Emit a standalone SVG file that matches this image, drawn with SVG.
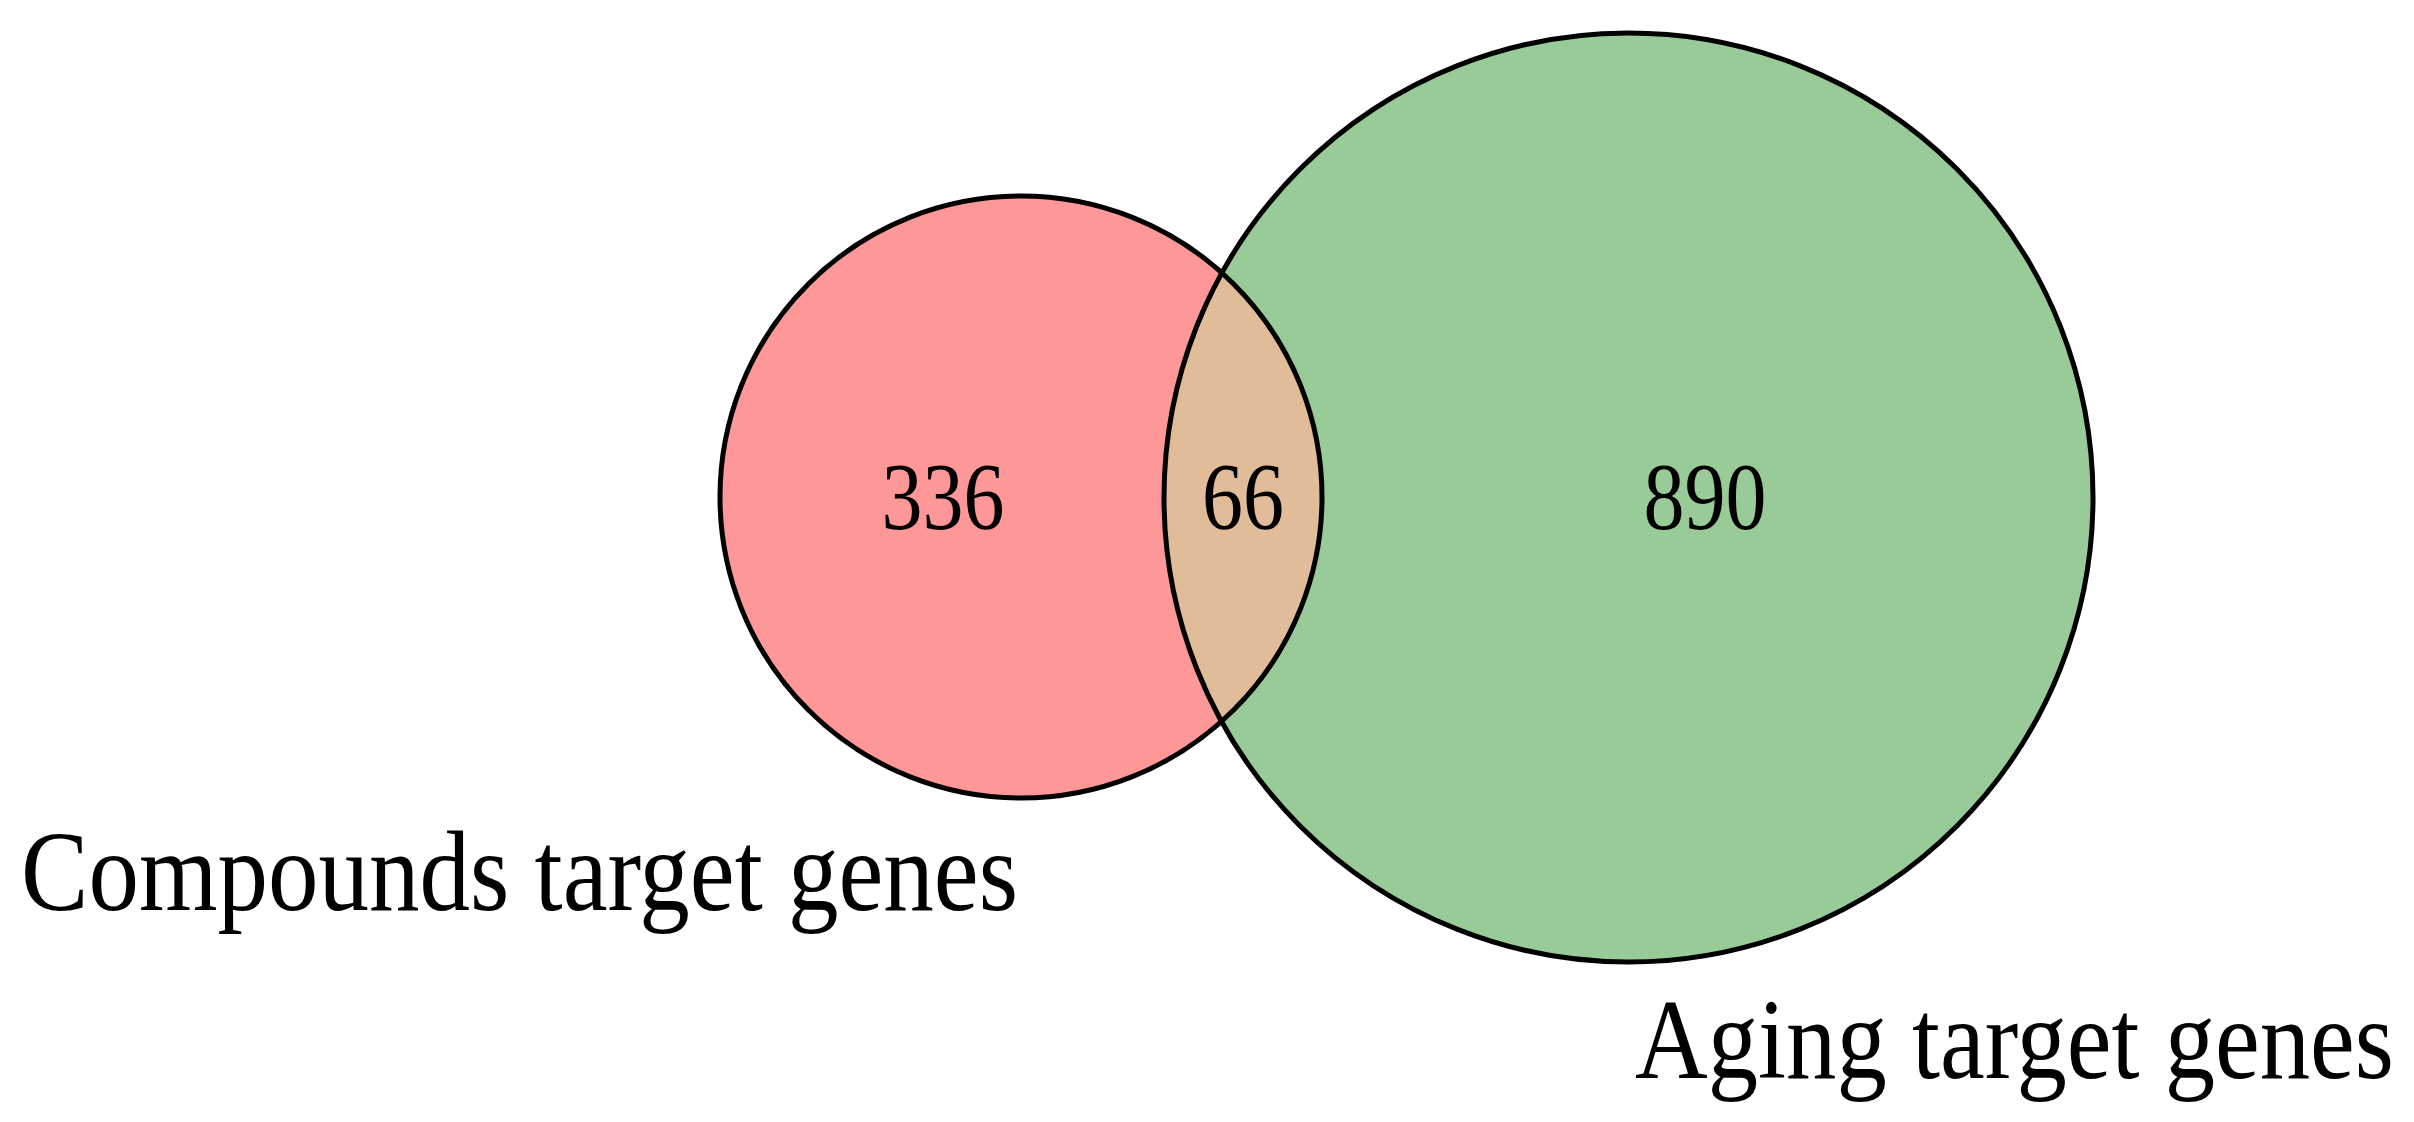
<svg xmlns="http://www.w3.org/2000/svg" width="2414" height="1122" viewBox="0 0 2414 1122">
<style>
.outline{fill:none;stroke:#000;stroke-width:5}
.num{font-family:"Liberation Serif","Times New Roman",serif;font-size:82px;fill:#000;text-anchor:middle}
.lbl{font-family:"Liberation Serif","Times New Roman",serif;font-size:100px;fill:#000}
</style>
<defs>
<clipPath id="clipGreen"><circle cx="1628.5" cy="497.5" r="464.5"/></clipPath>
</defs>
<rect width="2414" height="1122" fill="#fff"/>
<g id="set-compounds">
<circle cx="1021" cy="497" r="301" fill="#FE9797"/>
</g>
<g id="set-aging">
<circle cx="1628.5" cy="497.5" r="464.5" fill="#98CB98"/>
</g>
<g id="overlap">
<circle cx="1021" cy="497" r="301" fill="#E0BC98" clip-path="url(#clipGreen)"/>
</g>
<g id="outlines">
<circle class="outline" cx="1021" cy="497" r="301"/>
<circle class="outline" cx="1628.5" cy="497.5" r="464.5"/>
</g>
<g id="labels">
<text class="num" transform="translate(943,529) scale(1,1.15)">336</text>
<text class="num" transform="translate(1243,529) scale(1,1.15)">66</text>
<text class="num" transform="translate(1705,529) scale(1,1.15)">890</text>
<text class="lbl" transform="translate(21,910) scale(1,1.15)" textLength="997" lengthAdjust="spacingAndGlyphs">Compounds target genes</text>
<text class="lbl" transform="translate(1635,1078) scale(1,1.15)" textLength="759" lengthAdjust="spacingAndGlyphs">Aging target genes</text>
</g>
</svg>
